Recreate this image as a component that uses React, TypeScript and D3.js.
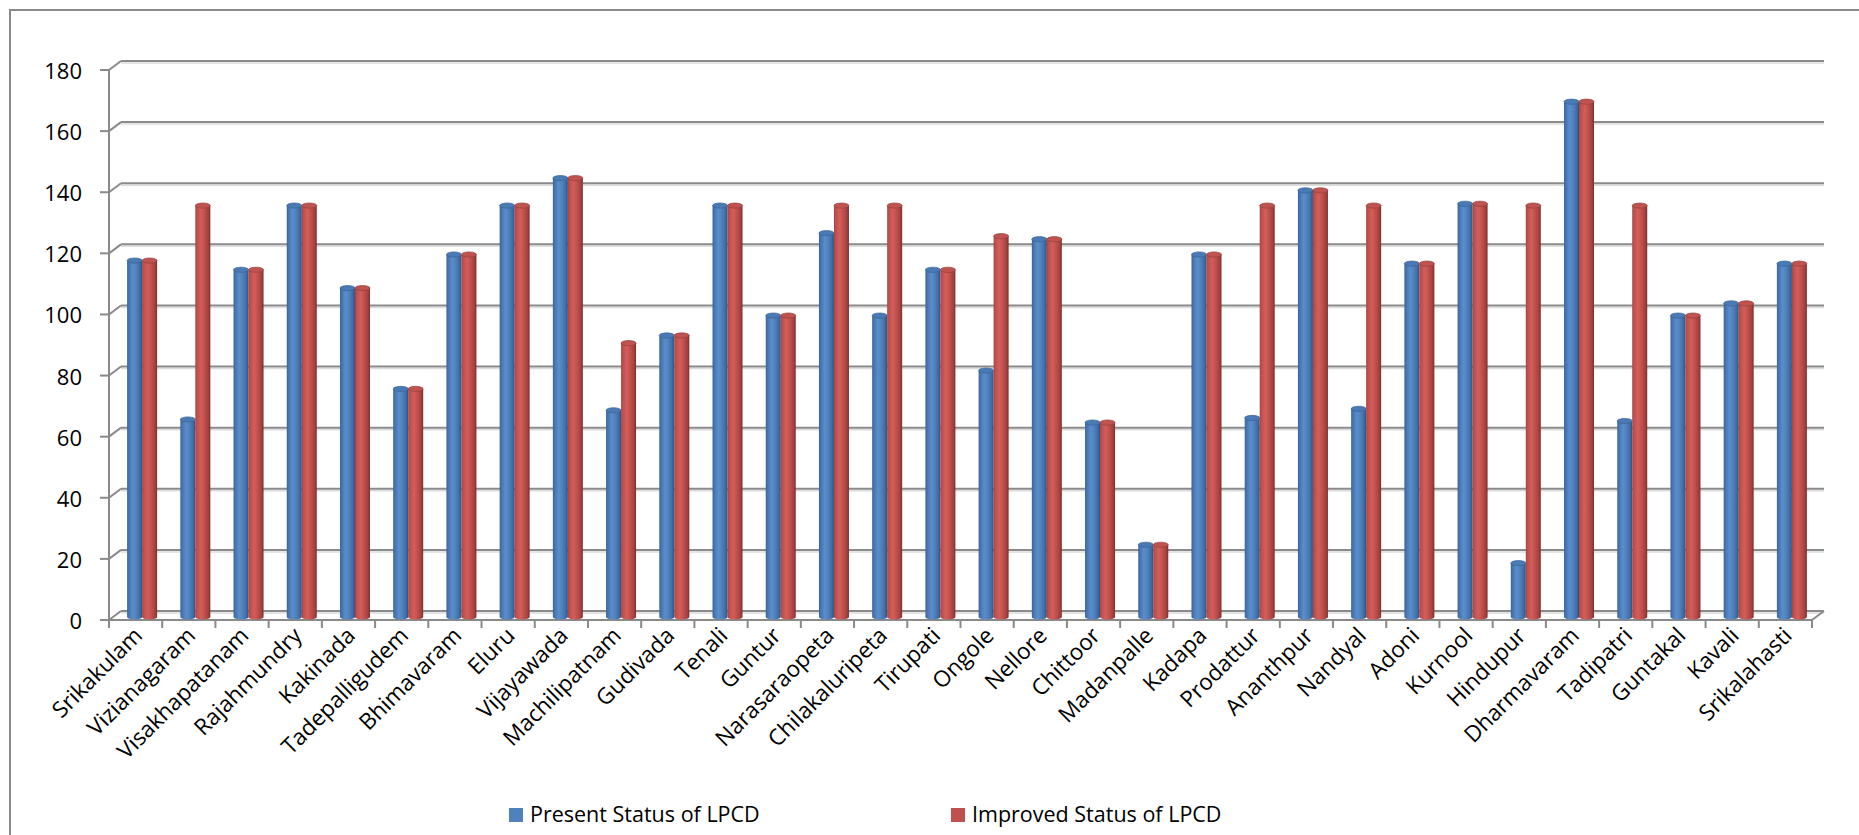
import React from 'react';
import * as d3 from 'd3';

// Towns and their water supply (litres per capita per day)
const categories = [
  'Srikakulam', 'Vizianagaram', 'Visakhapatanam', 'Rajahmundry', 'Kakinada',
  'Tadepalligudem', 'Bhimavaram', 'Eluru', 'Vijayawada', 'Machilipatnam',
  'Gudivada', 'Tenali', 'Guntur', 'Narasaraopeta', 'Chilakaluripeta',
  'Tirupati', 'Ongole', 'Nellore', 'Chittoor', 'Madanpalle', 'Kadapa',
  'Prodattur', 'Ananthpur', 'Nandyal', 'Adoni', 'Kurnool', 'Hindupur',
  'Dharmavaram', 'Tadipatri', 'Guntakal', 'Kavali', 'Srikalahasti',
];

const presentLPCD = [
  117, 65, 114, 135, 108, 75, 119, 135, 144, 68, 92.5, 135, 99, 126, 99, 114,
  81, 124, 64, 24, 119, 65.5, 140, 68.5, 116, 135.6, 18, 169, 64.5, 99, 103, 116,
];

const improvedLPCD = [
  117, 135, 114, 135, 108, 75, 119, 135, 144, 90, 92.5, 135, 99, 135, 135, 114,
  125, 124, 64, 24, 119, 135, 140, 135, 116, 135.6, 135, 169, 135, 99, 103, 116,
];

const yTicks = [0, 20, 40, 60, 80, 100, 120, 140, 160, 180];

const seriesNames = ['Present Status of LPCD', 'Improved Status of LPCD'];

const W = 1859;
const H = 835;
const FONT = "'Open Sans', 'Noto Sans', sans-serif";
const DEPTH_X = 12;
const DEPTH_Y = -9;
const GRID = '#8a8a8a';

type CylProps = { cx: number; w: number; top: number; bottom: number; grad: string; topFill: string; topStroke: string };

function Cylinder({ cx, w, top, bottom, grad, topFill, topStroke }: CylProps) {
  const rx = w / 2;
  const ry = 2.6;
  const body = `M${cx - rx},${top} L${cx - rx},${bottom} A${rx},${ry} 0 0 0 ${cx + rx},${bottom} L${cx + rx},${top} Z`;
  return (
    <g>
      <path d={body} fill={`url(#${grad})`} />
      <ellipse cx={cx} cy={top} rx={rx} ry={ry} fill={topFill} stroke={topStroke} strokeWidth={0.7} />
    </g>
  );
}

export default function App() {
  const x = d3.scaleBand<string>().domain(categories).range([109, 1812]);
  const y = d3.scaleLinear().domain([0, 180]).range([620, 70]);
  const bw = x.bandwidth();
  const barW = 15;
  const yMid = (v: number) => y(v) + DEPTH_Y / 2;
  const base = yMid(0) + 1.5;
  const [x0, x1] = x.range();

  const boundaries = [...categories.map((c) => x(c) as number), x1];

  return (
    <svg
      width={W}
      height={H}
      style={{ position: 'absolute', left: 0, top: 0, background: '#fff' }}
      fontFamily={FONT}
    >
      <defs>
        <linearGradient id="gBlue" x1="0" x2="1" y1="0" y2="0">
          <stop offset="0" stopColor="#39639a" />
          <stop offset="0.12" stopColor="#4575b0" />
          <stop offset="0.38" stopColor="#5b8dcb" />
          <stop offset="0.62" stopColor="#4f81bd" />
          <stop offset="0.86" stopColor="#3f6ca3" />
          <stop offset="1" stopColor="#2b4f7f" />
        </linearGradient>
        <linearGradient id="gRed" x1="0" x2="1" y1="0" y2="0">
          <stop offset="0" stopColor="#a6423f" />
          <stop offset="0.12" stopColor="#bf504d" />
          <stop offset="0.38" stopColor="#d35e5a" />
          <stop offset="0.62" stopColor="#c0504d" />
          <stop offset="0.86" stopColor="#a4413e" />
          <stop offset="1" stopColor="#7b2e2c" />
        </linearGradient>
      </defs>

      <rect x={10} y={10} width={W + 40} height={H + 40} fill="none" stroke={GRID} strokeWidth={2} />

      {/* back wall gridlines with side-wall diagonals and front ticks */}
      {yTicks.map((t) => {
        const yf = y(t);
        const yb = yf + DEPTH_Y;
        return (
          <g key={t}>
            <line x1={x0 + DEPTH_X} x2={x1 + DEPTH_X} y1={yb + 2} y2={yb + 2} stroke="#dcdcdc" strokeWidth={1.5} />
            <line x1={x0 + DEPTH_X} x2={x1 + DEPTH_X} y1={yb} y2={yb} stroke={GRID} strokeWidth={2} />
            <line x1={x0} y1={yf} x2={x0 + DEPTH_X} y2={yb} stroke={GRID} strokeWidth={2} />
            <line x1={x0 - 9} x2={x0} y1={yf} y2={yf} stroke={GRID} strokeWidth={2} />
            <text x={82} y={yf + 9} textAnchor="end" fontSize={22} fill="#000">
              {t}
            </text>
          </g>
        );
      })}

      {/* floor edges and value axis */}
      <line x1={x0} x2={x0} y1={y(180)} y2={y(0) + 8} stroke={GRID} strokeWidth={2} />
      <line x1={x0} x2={x1} y1={y(0)} y2={y(0)} stroke={GRID} strokeWidth={2} />
      <line x1={x1} y1={y(0)} x2={x1 + DEPTH_X} y2={y(0) + DEPTH_Y} stroke={GRID} strokeWidth={2} />
      {boundaries.map((bx, i) => (
        <line key={i} x1={bx} x2={bx} y1={y(0)} y2={y(0) + 8} stroke={GRID} strokeWidth={2} />
      ))}

      {/* cylinders */}
      {categories.map((c, i) => {
        const cx = (x(c) as number) + bw / 2 + DEPTH_X / 2 + 0.5;
        return (
          <g key={c}>
            <Cylinder
              cx={cx - barW / 2}
              w={barW}
              top={yMid(presentLPCD[i]) + 2.6}
              bottom={base}
              grad="gBlue"
              topFill="#4a7ab3"
              topStroke="#3a6397"
            />
            <Cylinder
              cx={cx + barW / 2}
              w={barW}
              top={yMid(improvedLPCD[i]) + 2.6}
              bottom={base}
              grad="gRed"
              topFill="#c05350"
              topStroke="#94403d"
            />
          </g>
        );
      })}

      {/* category labels */}
      {categories.map((c) => {
        const ax = (x(c) as number) + bw / 2 + 8;
        const ay = 637;
        return (
          <text
            key={c}
            transform={`translate(${ax},${ay}) rotate(-45)`}
            textAnchor="end"
            fontSize={22.5}
            fill="#000"
          >
            {c}
          </text>
        );
      })}

      {/* legend */}
      <g>
        <rect x={509} y={808} width={14} height={14} fill="#4f81bd" />
        <text x={530} y={822} fontSize={21.5} fill="#000">{seriesNames[0]}</text>
        <rect x={951} y={808} width={14} height={14} fill="#c0504d" />
        <text x={972} y={822} fontSize={21.5} fill="#000">{seriesNames[1]}</text>
      </g>
    </svg>
  );
}
